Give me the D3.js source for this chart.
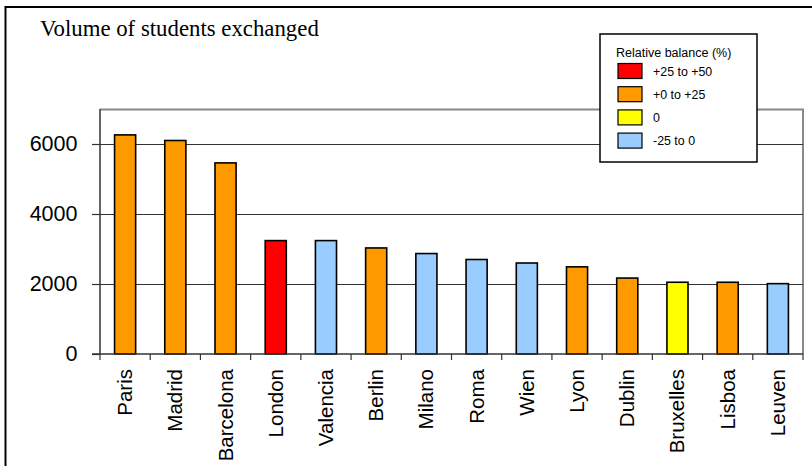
<!DOCTYPE html>
<html>
<head>
<meta charset="utf-8">
<script src="https://cdn.jsdelivr.net/npm/d3@7/dist/d3.min.js"></script>
<style>
  html, body { margin: 0; padding: 0; background: #fff; }
  svg { display: block; }
</style>
</head>
<body>
<svg id="chart" width="812" height="466"></svg>
<script>
// Cities ranked by volume of exchanged students
const cities = ["Paris", "Madrid", "Barcelona", "London", "Valencia", "Berlin", "Milano",
                "Roma", "Wien", "Lyon", "Dublin", "Bruxelles", "Lisboa", "Leuven"];
const volumes = [6260, 6100, 5460, 3240, 3240, 3030, 2870, 2700, 2600, 2490, 2170, 2050, 2050, 2010];
// Relative balance class of each city (index into balanceClasses)
const balance = [1, 1, 1, 0, 3, 1, 3, 3, 3, 1, 1, 2, 1, 3];
const balanceClasses = ["+25 to +50", "+0 to +25", "0", "-25 to 0"];
const balanceColors = ["#FF0000", "#FF9900", "#FFFF00", "#99CCFF"];
const yTicks = [0, 2000, 4000, 6000];

const svg = d3.select("#chart");
const margin = { left: 100, right: 9, top: 109, bottom: 112 };
const W = 812, H = 466;
const plotW = W - margin.left - margin.right;
const plotH = H - margin.top - margin.bottom;

// Outer frame (left and top edges visible)
svg.append("path")
  .attr("d", "M5.5,466 V7 H812")
  .attr("fill", "none").attr("stroke", "#000").attr("stroke-width", 2);

svg.append("text")
  .attr("x", 40).attr("y", 36)
  .attr("font-family", "'Liberation Serif', 'Times New Roman', serif")
  .attr("font-size", 22.8)
  .text("Volume of students exchanged");

const g = svg.append("g").attr("transform", `translate(${margin.left},${margin.top})`);

const x = d3.scaleBand().domain(cities).range([0, plotW]).paddingInner(0.58).paddingOuter(0.29);
const y = d3.scaleLinear().domain([0, 7000]).range([plotH, 0]);

// Plot frame top and right
g.append("path")
  .attr("d", `M0,0.5 H${plotW} V${plotH}`)
  .attr("fill", "none").attr("stroke", "#888").attr("stroke-width", 2);

// Gridlines
g.append("g").selectAll("line")
  .data(yTicks.filter(d => d > 0))
  .join("line")
  .attr("x1", 0).attr("x2", plotW)
  .attr("y1", d => Math.round(y(d)) + 0.5).attr("y2", d => Math.round(y(d)) + 0.5)
  .attr("stroke", "#333").attr("stroke-width", 1.2);

// Bars
g.append("g").selectAll("rect")
  .data(cities)
  .join("rect")
  .attr("x", d => x(d))
  .attr("y", (d, i) => y(volumes[i]))
  .attr("width", x.bandwidth())
  .attr("height", (d, i) => plotH - y(volumes[i]))
  .attr("fill", (d, i) => balanceColors[balance[i]])
  .attr("stroke", "#000").attr("stroke-width", 1.6);

// Y axis
const yAxis = g.append("g")
  .call(d3.axisLeft(y).tickValues(yTicks).tickSize(8).tickPadding(14.5).tickFormat(d3.format("d")));
yAxis.select(".domain").attr("stroke", "#333").attr("stroke-width", 1.5).attr("d", `M0,0 V${plotH}`);
yAxis.selectAll(".tick line").attr("stroke", "#333").attr("stroke-width", 1.2);
yAxis.selectAll(".tick text")
  .attr("font-family", "Arial, 'Liberation Sans', sans-serif")
  .attr("font-size", 21.5).attr("fill", "#000");

// X axis with ticks at category boundaries
const boundaries = d3.range(cities.length + 1).map(i => i * plotW / cities.length);
const xAxis = g.append("g").attr("transform", `translate(0,${plotH})`);
xAxis.append("line").attr("x1", -8).attr("x2", plotW)
  .attr("stroke", "#333").attr("stroke-width", 1.5);
xAxis.selectAll("line.tk").data(boundaries).join("line").attr("class", "tk")
  .attr("x1", d => d).attr("x2", d => d).attr("y1", 0).attr("y2", 6)
  .attr("stroke", "#333").attr("stroke-width", 1.2);
xAxis.selectAll("text").data(cities).join("text")
  .attr("transform", d => `translate(${x(d) + x.bandwidth() / 2 + 7},15) rotate(-90)`)
  .attr("text-anchor", "end")
  .attr("font-family", "Arial, 'Liberation Sans', sans-serif")
  .attr("font-size", 20.5)
  .text(d => d);

// Legend
const lg = svg.append("g").attr("transform", "translate(600,34)");
lg.append("rect").attr("x", 0).attr("y", 0).attr("width", 157).attr("height", 128)
  .attr("fill", "#fff").attr("stroke", "#000").attr("stroke-width", 1.5);
lg.append("text").attr("x", 16).attr("y", 23)
  .attr("font-family", "Arial, 'Liberation Sans', sans-serif").attr("font-size", 12.5)
  .text("Relative balance (%)");
const items = lg.selectAll("g.item").data(balanceClasses).join("g").attr("class", "item")
  .attr("transform", (d, i) => `translate(18,${29.5 + i * 23.2})`);
items.append("rect").attr("width", 24).attr("height", 15)
  .attr("fill", (d, i) => balanceColors[i]).attr("stroke", "#000").attr("stroke-width", 1.2);
items.append("text").attr("x", 35).attr("y", 8).attr("dy", "0.35em")
  .attr("font-family", "Arial, 'Liberation Sans', sans-serif").attr("font-size", 12.4)
  .text(d => d);
</script>
</body>
</html>
